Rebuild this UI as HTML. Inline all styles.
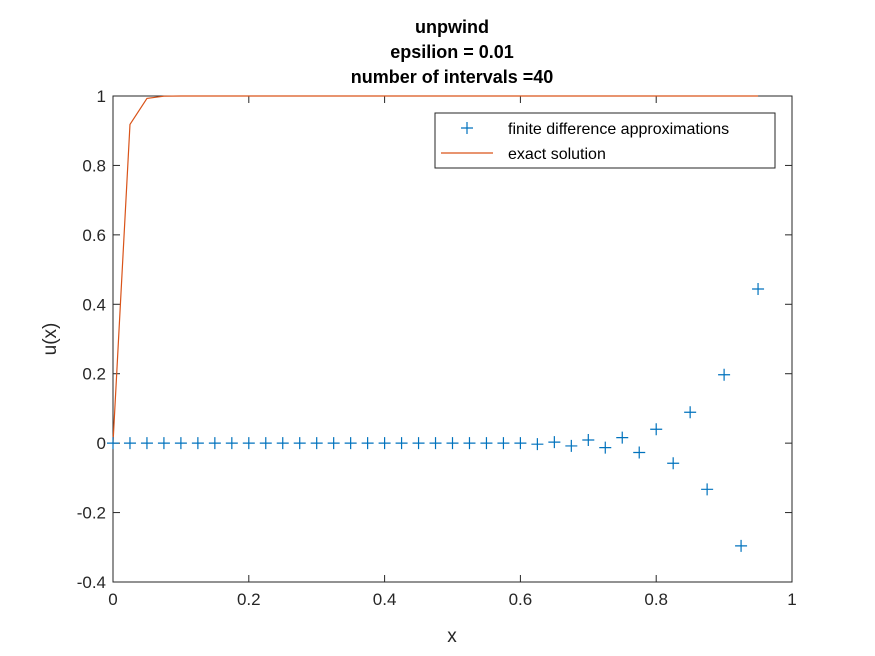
<!DOCTYPE html>
<html><head><meta charset="utf-8"><style>
body{margin:0;background:#fff;}
svg{display:block;font-family:"Liberation Sans",Arial,sans-serif;}
</style></head><body>
<svg id="chart" width="875" height="656" viewBox="0 0 875 656" xmlns="http://www.w3.org/2000/svg">
<rect width="875" height="656" fill="#fff"/>
<g id="plot"></g>
</svg>
<script>
const xs = [0,0.025,0.05,0.075,0.1,0.125,0.15,0.175,0.2,0.225,0.25,0.275,0.3,0.325,0.35,0.375,0.4,0.425,0.45,0.475,0.5,0.525,0.55,0.575,0.6,0.625,0.65,0.675,0.7,0.725,0.75,0.775,0.8,0.825,0.85,0.875,0.9,0.925,0.95];
const fdValues = [0,0,0,0,0,0,0,0,0,0,0,0,0,0,0,0,0,0,0,0,0,0,0,0,0,-0.003,0.003,-0.008,0.009,-0.013,0.016,-0.027,0.040,-0.058,0.089,-0.133,0.197,-0.296,0.444];
const exactValues = [0,0.918,0.993,0.9994,1,1,1,1,1,1,1,1,1,1,1,1,1,1,1,1,1,1,1,1,1,1,1,1,1,1,1,1,1,1,1,1,1,1,1];
const xTicks = [0,0.2,0.4,0.6,0.8,1];
const xTickLabels = ["0","0.2","0.4","0.6","0.8","1"];
const yTicks = [-0.4,-0.2,0,0.2,0.4,0.6,0.8,1];
const yTickLabels = ["-0.4","-0.2","0","0.2","0.4","0.6","0.8","1"];

const L=113,R=792,T=96,B=582;
const sx=v=>L+(v-0)/(1-0)*(R-L);
const sy=v=>B-(v+0.4)/(1.4)*(B-T);
const NS="http://www.w3.org/2000/svg";
const g=document.getElementById('plot');
function mk(tag,attrs,text){const e=document.createElementNS(NS,tag);for(const k in attrs)e.setAttribute(k,attrs[k]);if(text!==undefined)e.textContent=text;g.appendChild(e);return e;}

const box=mk('rect',{x:L,y:T,width:R-L,height:B-T,fill:'#fff',stroke:'#262626','stroke-width':1});



xTicks.forEach((v,i)=>{
  const x=sx(v);
  const t1=mk('line',{x1:x,y1:B,x2:x,y2:B-7,stroke:'#262626'});
  
  
  mk('line',{x1:x,y1:T,x2:x,y2:T+7,stroke:'#262626'});
  const tl=mk('text',{x:x,y:B+23,'text-anchor':'middle','font-size':17,fill:'#262626'},xTickLabels[i]);
  
  
});
yTicks.forEach((v,i)=>{
  const y=sy(v);
  const t1=mk('line',{x1:L,y1:y,x2:L+7,y2:y,stroke:'#262626'});
  
  
  mk('line',{x1:R,y1:y,x2:R-7,y2:y,stroke:'#262626'});
  const tl=mk('text',{x:L-7,y:y+6,'text-anchor':'end','font-size':17,fill:'#262626'},yTickLabels[i]);
  
  
});

const pts=xs.map((x,i)=>sx(x)+','+sy(exactValues[i])).join(' ');
const line=mk('polyline',{points:pts,fill:'none',stroke:'#d95319','stroke-width':1.2});



xs.forEach((x,i)=>{
  const cx=sx(x),cy=sy(fdValues[i]);
  const p=mk('path',{d:`M${cx-6},${cy}H${cx+6}M${cx},${cy-6}V${cy+6}`,stroke:'#0072bd','stroke-width':1.2,fill:'none'});
  
  
});

const t1=mk('text',{x:452,y:33,'text-anchor':'middle','font-size':18,'font-weight':'bold',fill:'#000'},'unpwind');


const t2=mk('text',{x:452,y:58,'text-anchor':'middle','font-size':18,'font-weight':'bold',fill:'#000'},'epsilion = 0.01');


const t3=mk('text',{x:452,y:83,'text-anchor':'middle','font-size':18,'font-weight':'bold',fill:'#000'},'number of intervals =40');


const xl=mk('text',{x:452,y:642,'text-anchor':'middle','font-size':19,fill:'#262626'},'x');


const yl=mk('text',{x:0,y:0,'text-anchor':'middle','font-size':19,fill:'#262626',transform:'translate(56,339) rotate(-90)'},'u(x)');



const lg=mk('rect',{x:435,y:113,width:340,height:55,fill:'#fff',stroke:'#262626','stroke-width':1});


const lm=mk('path',{d:'M461,128H473M467,122V134',stroke:'#0072bd','stroke-width':1.2});


const le1=mk('text',{x:508,y:134,'font-size':16,fill:'#000'},'finite difference approximations');


const ll=mk('line',{x1:441,y1:153,x2:493,y2:153,stroke:'#d95319','stroke-width':1.2});


const le2=mk('text',{x:508,y:159,'font-size':16,fill:'#000'},'exact solution');


</script>
</body></html>
